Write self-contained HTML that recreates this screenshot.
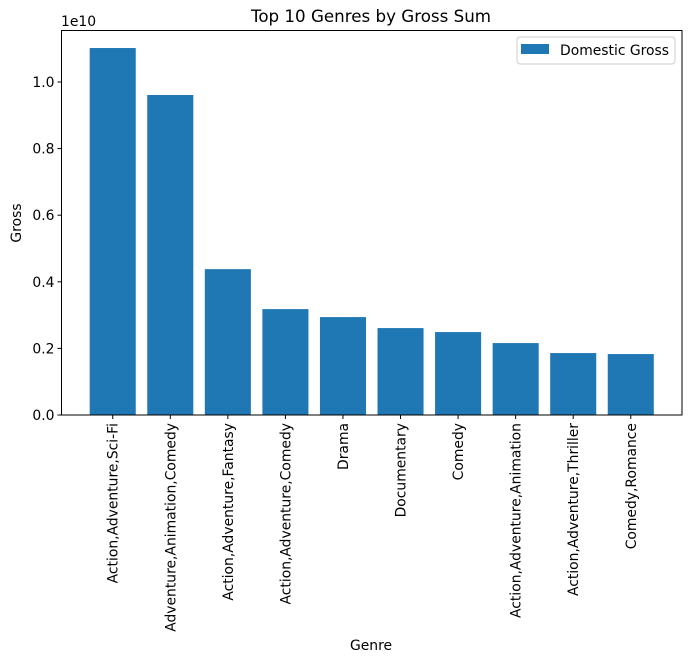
<!DOCTYPE html>
<html><head><meta charset="utf-8"><style>
body{margin:0;background:#fff;}
svg text{font-family:"DejaVu Sans","Liberation Sans",sans-serif;fill:#000;}
</style></head><body>
<svg id="chart" width="691" height="663" viewBox="0 0 691 663" xmlns="http://www.w3.org/2000/svg">
<text x="371" y="22" font-size="16.7" text-anchor="middle">Top 10 Genres by Gross Sum</text>
<g id="plot"></g>
<text x="61" y="26" font-size="13.9">1e10</text>
<text x="21" y="223" font-size="13.9" text-anchor="middle" transform="rotate(-90 21 223)">Gross</text>
<text x="371" y="650" font-size="13.9" text-anchor="middle">Genre</text>
<g>
<rect x="517" y="37" width="158" height="27" rx="3" fill="#fff" stroke="#ccc"/>
<rect x="521" y="44" width="28" height="10" fill="#1f77b4"/>
<text x="560" y="55" font-size="13.9">Domestic Gross</text>
</g>
</svg>
<script>
const categories=["Action,Adventure,Sci-Fi","Adventure,Animation,Comedy","Action,Adventure,Fantasy","Action,Adventure,Comedy","Drama","Documentary","Comedy","Action,Adventure,Animation","Action,Adventure,Thriller","Comedy,Romance"];
const values=[1.102,0.961,0.438,0.318,0.294,0.261,0.249,0.216,0.186,0.183];
const yTicks=[0,0.2,0.4,0.6,0.8,1.0];
const yTickLabels=["0.0","0.2","0.4","0.6","0.8","1.0"];
const L=61.5,R=682,T=30.5,B=415;
const xMin=-0.89,xMax=9.89;
const x=i=>L+(i-xMin)/(xMax-xMin)*(R-L);
const y=v=>B-v*333;
const NS="http://www.w3.org/2000/svg";
const g=document.getElementById('plot');
function mk(t,a){const e=document.createElementNS(NS,t);for(const k in a)e.setAttribute(k,a[k]);g.appendChild(e);return e;}
const bw=(x(1)-x(0))*0.8;
categories.forEach((c,i)=>{
 const r=mk('rect',{x:x(i)-bw/2,y:y(values[i]),width:bw,height:B-y(values[i]),fill:'#1f77b4'});
 
 
 const tk=mk('line',{x1:x(i),x2:x(i),y1:B,y2:B+4,stroke:'#000'});
 
 
 const t=mk('text',{x:x(i)+5,y:B+8,'font-size':13.9,'text-anchor':'end',transform:`rotate(-90 ${x(i)+5} ${B+8})`});
 t.textContent=c;
 
 
});
yTicks.forEach((v,i)=>{
 const tk=mk('line',{x1:L-4,x2:L,y1:y(v),y2:y(v),stroke:'#000'});
 
 
 const t=mk('text',{x:L-7,y:y(v)+5,'font-size':13.9,'text-anchor':'end'});
 t.textContent=yTickLabels[i];
 
 
});
const fr=mk('rect',{x:L,y:T,width:R-L,height:B-T,fill:'none',stroke:'#000','stroke-width':1});


</script>
</body></html>
